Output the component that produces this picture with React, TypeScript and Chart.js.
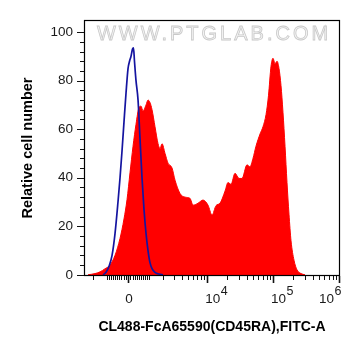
import React, { useEffect, useRef } from "react";
import { Chart, registerables } from "chart.js";

Chart.register(...registerables);

// X values are positions on the biexponential display axis (decades; 0 = zero signal).
// Y values are relative cell number.
const redX = [
  -0.606, -0.5, -0.424, -0.348, -0.273, -0.197, -0.121, -0.061, -0.015, 0.03,
  0.076, 0.121, 0.167, 0.197, 0.227, 0.273, 0.303, 0.333, 0.364, 0.409,
  0.455, 0.485, 0.515, 0.561, 0.606, 0.667, 0.712, 0.788, 0.864, 0.939,
  0.985, 1.061, 1.136, 1.212, 1.273, 1.333, 1.394, 1.47, 1.515, 1.561,
  1.621, 1.682, 1.727, 1.803, 1.848, 1.894, 1.939, 2.0, 2.045, 2.091,
  2.129, 2.167, 2.197, 2.227, 2.258, 2.288, 2.318, 2.348, 2.379, 2.409,
  2.439, 2.47, 2.515, 2.561, 2.621, 2.682,
];
const redY = [
  0, 0.5, 1.2, 2.5, 4, 8, 15, 23, 31, 42,
  53, 62, 69, 69.5, 67.5, 70, 72, 71, 68, 61,
  54, 52, 54, 50, 46, 44, 39, 33.5, 32, 31.5,
  28.7, 29.5, 30.8, 28.7, 24.6, 28.5, 29.5, 34.5, 38, 37.3,
  41.8, 39.7, 39.7, 45.3, 44.5, 48, 53, 58, 61, 66,
  74, 86, 89.2, 87, 88, 85, 78, 67, 53, 38,
  25, 14, 6, 2, 0.5, 0,
];

const blueX = [
  -0.379, -0.333, -0.288, -0.242, -0.197, -0.152, -0.121, -0.091, -0.061, -0.03,
  0, 0.023, 0.045, 0.068, 0.083, 0.098, 0.121, 0.152, 0.182, 0.212,
  0.242, 0.273, 0.303, 0.333, 0.364, 0.409, 0.47, 0.53,
];
const blueY = [
  0, 1, 3.5, 8, 17, 30, 40, 51, 63, 75,
  85, 88, 90, 93, 93.5, 88, 80, 72, 56, 40,
  27, 17, 10, 5, 2.5, 1, 0.3, 0,
];

const xMajorTicks = [0, 1e4, 1e5, 1e6];
const xMajorExponents = ["", "4", "5", "6"];
const xMinorTicks = [
  -2000, -1000, -900, -800, -700, -600, -500, -400, -300, -200, -100,
  100, 200, 300, 400, 500, 600, 700, 800, 900, 1000,
  2000, 3000, 4000, 5000, 6000, 7000, 8000, 9000,
  20000, 30000, 40000, 50000, 60000, 70000, 80000, 90000,
  200000, 300000, 400000, 500000, 600000, 700000, 800000, 900000,
];
const yTicks = [0, 20, 40, 60, 80, 100];
const yMinorStep = 4;

const xTitle = "CL488-FcA65590(CD45RA),FITC-A";
const yTitle = "Relative cell number";
const watermark = "WWW.PTGLAB.COM";

const X_MIN = -0.667;
const X_MAX = 3.212;
const Y_MIN = -0.5;
const Y_MAX = 105;

const BIEX_W = 1267;
const toDisplay = (v: number) => Math.asinh(v / BIEX_W) / Math.LN10;

const FONT = '"Liberation Sans", Arial, Helvetica, sans-serif';

const decorPlugin = {
  id: "decor",
  afterDatasetsDraw(chart: any) {
    const { ctx, chartArea: a, scales } = chart;
    const xs = scales.x;
    const ys = scales.y;
    ctx.save();

    // watermark
    ctx.font = `20px ${FONT}`;
    (ctx as any).letterSpacing = "3px";
    ctx.textAlign = "center";
    ctx.textBaseline = "middle";
    ctx.fillStyle = "#f3f3f3";
    ctx.strokeStyle = "#c9c9c9";
    ctx.lineWidth = 0.8;
    const wx = (a.left + a.right) / 2 + 2;
    const wy = a.top + 14;
    ctx.fillText(watermark, wx, wy);
    ctx.strokeText(watermark, wx, wy);
    (ctx as any).letterSpacing = "0px";

    // frame
    ctx.strokeStyle = "#000";
    ctx.lineWidth = 1.2;
    ctx.strokeRect(a.left + 0.5, a.top + 0.5, a.right - a.left - 1, a.bottom - a.top - 1);

    // y ticks
    ctx.lineWidth = 1;
    ctx.strokeStyle = "#111";
    for (let v = 0; v <= 100; v += yMinorStep) {
      const y = Math.round(ys.getPixelForValue(v)) + 0.5;
      const len = v % 20 === 0 ? 7 : 4;
      ctx.beginPath();
      ctx.moveTo(a.left - len, y);
      ctx.lineTo(a.left, y);
      ctx.stroke();
    }

    // x ticks
    xMinorTicks.forEach((v) => {
      const x = Math.round(xs.getPixelForValue(toDisplay(v))) + 0.5;
      ctx.beginPath();
      ctx.moveTo(x, a.bottom);
      ctx.lineTo(x, a.bottom + 4);
      ctx.stroke();
    });
    ctx.lineWidth = 1.6;
    xMajorTicks.forEach((v) => {
      const x = Math.round(xs.getPixelForValue(toDisplay(v))) + 0.5;
      ctx.beginPath();
      ctx.moveTo(x, a.bottom);
      ctx.lineTo(x, a.bottom + 7);
      ctx.stroke();
    });

    // x tick labels
    ctx.fillStyle = "#1a1a1a";
    ctx.textBaseline = "alphabetic";
    const baseY = a.bottom + 27;
    xMajorTicks.forEach((v, i) => {
      const x = xs.getPixelForValue(toDisplay(v));
      const exp = xMajorExponents[i];
      ctx.font = `13.5px ${FONT}`;
      if (!exp) {
        ctx.textAlign = "center";
        ctx.fillText("0", x + 1, baseY);
        return;
      }
      const wb = ctx.measureText("10").width;
      ctx.font = `12.5px ${FONT}`;
      const ws = ctx.measureText(exp).width;
      let sx = x - 2;
      if (sx + wb + ws > a.right + 1) sx = a.right + 1 - wb - ws;
      ctx.textAlign = "left";
      ctx.font = `13.5px ${FONT}`;
      ctx.fillText("10", sx, baseY);
      ctx.font = `12.5px ${FONT}`;
      ctx.fillText(exp, sx + wb + 0.5, baseY - 8);
    });

    ctx.restore();
  },
};

export default function App() {
  const canvasRef = useRef<HTMLCanvasElement | null>(null);

  useEffect(() => {
    const canvas = canvasRef.current;
    if (!canvas) return;
    const chart = new Chart(canvas, {
      type: "line",
      data: {
        datasets: [
          {
            label: "blue",
            data: blueX.map((x, i) => ({ x, y: blueY[i] })),
            borderColor: "#1414a0",
            borderWidth: 1.7,
            fill: false,
            pointRadius: 0,
            cubicInterpolationMode: "monotone",
            order: 1,
          },
          {
            label: "red",
            data: redX.map((x, i) => ({ x, y: redY[i] })),
            borderColor: "#ff0000",
            backgroundColor: "#ff0000",
            borderWidth: 1,
            fill: "start",
            pointRadius: 0,
            cubicInterpolationMode: "monotone",
            order: 2,
          },
        ],
      },
      options: {
        animation: false,
        responsive: false,
        maintainAspectRatio: false,
        layout: { padding: { left: 15, right: 21, top: 20, bottom: 16 } },
        plugins: {
          legend: { display: false },
          tooltip: { enabled: false },
        },
        scales: {
          x: {
            type: "linear",
            min: X_MIN,
            max: X_MAX,
            grid: { display: false, drawTicks: false },
            border: { display: false },
            ticks: { display: false },
            title: {
              display: true,
              text: xTitle,
              color: "#000",
              font: { family: FONT, size: 14, weight: "bold" },
              padding: { top: 4, bottom: 4 },
            },
            afterFit: (s: any) => {
              s.height = 64;
            },
          },
          y: {
            type: "linear",
            min: Y_MIN,
            max: Y_MAX,
            grid: { display: false, drawTicks: false },
            border: { display: false },
            ticks: {
              padding: 11,
              color: "#1a1a1a",
              font: { family: FONT, size: 13.5 },
              callback: (v: any) => String(v),
            },
            afterBuildTicks: (s: any) => {
              s.ticks = yTicks.map((v) => ({ value: v }));
            },
            title: {
              display: true,
              text: yTitle,
              color: "#000",
              font: { family: FONT, size: 14.5, weight: "bold" },
              padding: { top: 4, bottom: 4 },
            },
            afterFit: (s: any) => {
              s.width = 69;
            },
          },
        },
      } as any,
      plugins: [decorPlugin],
    });
    return () => chart.destroy();
  }, []);

  return (
    <div style={{ position: "fixed", left: 0, top: 0, width: 361, height: 356, background: "#fff" }}>
      <canvas ref={canvasRef} width={361} height={356} style={{ display: "block", width: 361, height: 356 }} />
    </div>
  );
}
